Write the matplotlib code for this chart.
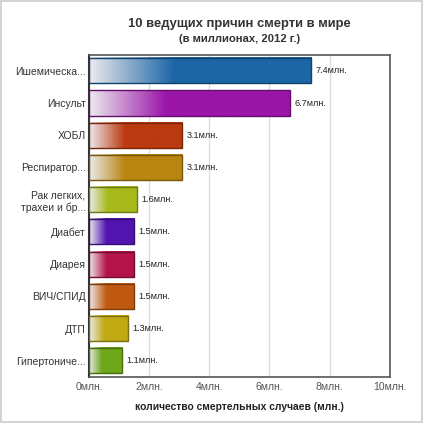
import matplotlib.pyplot as plt
import matplotlib.colors as mcolors
import numpy as np
from matplotlib.patches import Rectangle

plt.rcParams['font.family'] = ['Liberation Sans', 'DejaVu Sans']

categories = ['Ишемическа...', 'Инсульт', 'ХОБЛ', 'Респиратор...',
              'Рак легких,\nтрахеи и бр...', 'Диабет', 'Диарея',
              'ВИЧ/СПИД', 'ДТП', 'Гипертониче...']
values = [7.4, 6.7, 3.1, 3.1, 1.6, 1.5, 1.5, 1.5, 1.3, 1.1]
bar_colors = ['#1c66a6', '#9a16a8', '#bb3a10', '#b88510', '#a8ba1c',
              '#5214b0', '#b41448', '#c05a10', '#c0aa14', '#6ea81a']
xticks = [0, 2, 4, 6, 8, 10]

fig = plt.figure(figsize=(4.24, 4.24), dpi=100)
fig.patch.set_facecolor('white')
ax = fig.add_axes([0.21, 0.111, 0.709, 0.760])

light = np.array(mcolors.to_rgb('#ecebee'))
h = 0.78
for i, (v, c) in enumerate(zip(values, bar_colors)):
    col = np.array(mcolors.to_rgb(c))
    t = np.clip(np.linspace(0, 1, 200) / 0.38, 0, 1)
    grad = light[None, :] * (1 - t[:, None]) + col[None, :] * t[:, None]
    ax.imshow(grad[None, :, :], extent=(0, v, i + h / 2, i - h / 2),
              aspect='auto', interpolation='bilinear', zorder=2)
    edge = col * 0.65
    ax.add_patch(Rectangle((0, i - h / 2), v, h, fill=False,
                           edgecolor=edge, linewidth=1.0, zorder=3))
    ax.text(v + 0.15, i, f'{v}млн.', va='center', ha='left',
            fontsize=6.6, color='#222222', zorder=4)

ax.set_xlim(0, 10)
ax.set_ylim(len(values) - 0.5, -0.5)
ax.set_xticks(xticks)
ax.set_xticklabels([f'{x}млн.' for x in xticks], fontsize=7.5, color='#555555')
ax.set_yticks(range(len(categories)))
ax.set_yticklabels(categories, fontsize=7.5, color='#333333')
ax.tick_params(axis='y', length=0, pad=2.5)
ax.tick_params(axis='x', length=0, pad=4)
ax.xaxis.grid(True, color='#dddddd', linewidth=1.0, zorder=0)
ax.set_axisbelow(True)
for s in ['top', 'right', 'bottom']:
    ax.spines[s].set_color('#555555')
    ax.spines[s].set_linewidth(1.2)
ax.spines['left'].set_color('#333333')
ax.spines['left'].set_linewidth(1.5)

ax.set_xlabel('количество смертельных случаев (млн.)', fontsize=7.4,
              fontweight='bold', color='#222222', labelpad=7)

fig.text(0.565, 0.944, '10 ведущих причин смерти в мире', ha='center',
         va='center', fontsize=9.4, fontweight='bold', color='#333333')
fig.text(0.565, 0.907, '(в миллионах, 2012 г.)', ha='center',
         va='center', fontsize=8.1, fontweight='bold', color='#333333')

fig.add_artist(Rectangle((0.003, 0.005), 0.992, 0.992, fill=False,
                         edgecolor='#cccccc', linewidth=1.2,
                         transform=fig.transFigure))

fig.savefig('out.png', dpi=100)
